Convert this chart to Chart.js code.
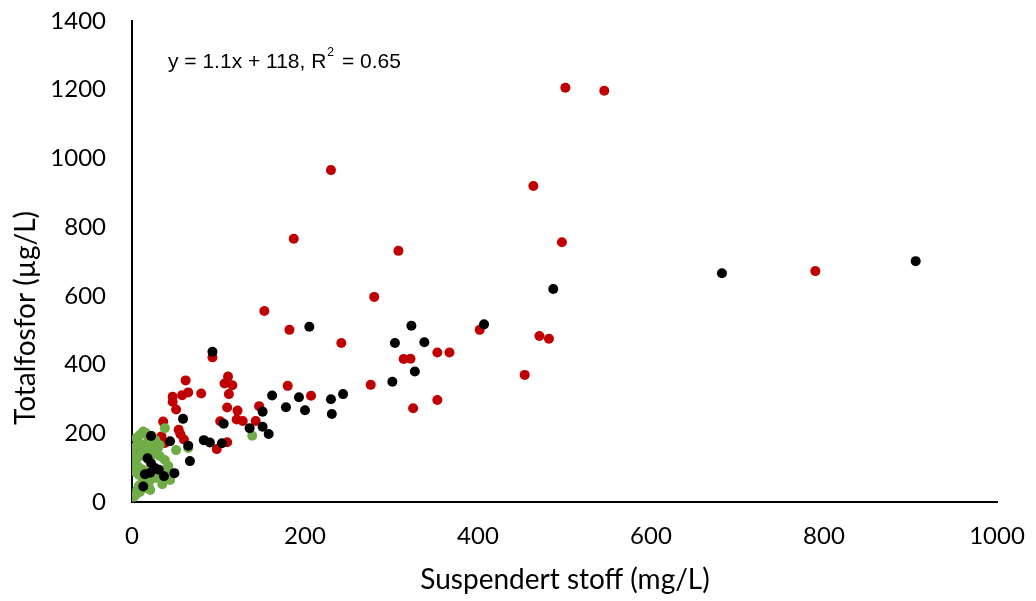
<!DOCTYPE html>
<html lang="no">
<head>
    <meta charset="UTF-8">
    <title>Totalfosfor mot suspendert stoff</title>
    <script src="https://cdn.jsdelivr.net/npm/chart.js"></script>
    <style>
        body { margin: 0; background: #fff; }
    </style>
</head>
<body>
    <canvas id="grafico" width="1036" height="601"></canvas>

    <script>
        // Data lest av figuren (x = suspendert stoff, y = totalfosfor)
        const redX = [501, 546, 230, 464, 187, 497, 308, 790, 280, 153, 182, 402, 242, 471, 482, 314, 322, 353, 367, 454,
                      93, 276, 180, 207, 353, 325, 62, 107, 111, 116, 47, 58, 65, 80, 112, 47, 51, 110, 122, 147,
                      121, 128, 36, 102, 143, 54, 56, 34, 60, 110, 98, 38];
        const redY = [1206, 1197, 966, 920, 766, 756, 731, 672, 597, 556, 501, 501, 463, 483, 475, 416, 417, 435, 435, 370,
                      421, 341, 338, 309, 297, 273, 354, 345, 365, 340, 306, 311, 319, 316, 314, 292, 269, 275, 266, 279,
                      240, 236, 234, 235, 236, 210, 197, 191, 182, 174, 154, 172];

        const blackX = [906, 682, 487, 407, 205, 323, 304, 338, 93, 327, 301, 162, 193, 230, 244, 178, 200, 231, 151, 59,
                        106, 151, 136, 158, 22, 44, 83, 90, 104, 65, 67, 18, 22, 27, 31, 15, 21, 37, 49, 13];
        const blackY = [701, 666, 620, 517, 510, 513, 463, 465, 437, 380, 350, 310, 305, 299, 314, 276, 267, 256, 263, 242,
                        228, 219, 215, 198, 192, 177, 180, 173, 171, 164, 119, 127, 113, 98, 94, 81, 85, 75, 84, 45];

        const greenX = [13, 9, 5, 16, 7, 12, 4, 8, 15, 21, 27, 30, 2, 6, 10, 16, 23, 32, 38, 42,
                        38, 44, 32, 28, 21, 15, 12, 8, 6, 5, 9, 15, 19, 1, 5, 9, 4, 8, 13, 27,
                        32, 19, 23, 38, 51, 65, 139, 44, 35, 21, 2];
        const greenY = [205, 195, 186, 201, 175, 166, 160, 151, 157, 163, 151, 157, 137, 128, 134, 143, 137, 134, 122, 105,
                        93, 87, 79, 70, 64, 73, 58, 47, 35, 23, 29, 41, 49, 122, 108, 99, 87, 79, 93, 180,
                        166, 180, 192, 215, 151, 157, 193, 64, 52, 35, 15];

        const xTitle = 'Suspendert stoff (mg/L)';
        const yTitle = 'Totalfosfor (µg/L)';
        const equation = 'y = 1.1x + 118, R';

        function toPoints(xs, ys) {
            return xs.map((x, i) => ({ x: x, y: ys[i] }));
        }

        // Aksetitler og regresjonstekst tegnes selv
        const textPlugin = {
            id: 'tekster',
            afterDraw(chart) {
                const c = chart.ctx;
                c.save();
                c.fillStyle = '#000';
                c.textAlign = 'center';
                c.textBaseline = 'middle';
                c.font = '28px Lato, "Open Sans", sans-serif';
                c.fillText(xTitle, 565, 580);
                c.translate(26, 318);
                c.rotate(-Math.PI / 2);
                c.fillText(yTitle, 0, 0);
                c.restore();

                c.save();
                c.fillStyle = '#000';
                c.textBaseline = 'alphabetic';
                c.textAlign = 'left';
                c.font = '21px "Liberation Sans Narrow", "Liberation Sans", sans-serif';
                let x0 = 168;
                c.fillText(equation, x0, 68);
                x0 += c.measureText(equation).width + 1;
                c.font = '12px "Liberation Sans Narrow", "Liberation Sans", sans-serif';
                c.fillText('2', x0, 56);
                x0 += c.measureText('2').width + 2;
                c.font = '21px "Liberation Sans Narrow", "Liberation Sans", sans-serif';
                c.fillText(' = 0.65', x0, 68);
                c.restore();
            }
        };

        const tickFont = { family: 'Lato, "Open Sans", sans-serif', size: 24 };

        function noPadding(scale) {
            scale.paddingTop = 0;
            scale.paddingBottom = 0;
            scale.paddingLeft = 0;
            scale.paddingRight = 0;
        }

        const ctx = document.getElementById('grafico').getContext('2d');
        const chart = new Chart(ctx, {
            type: 'scatter',
            data: {
                datasets: [{
                    data: toPoints(blackX, blackY),
                    backgroundColor: '#000000'
                }, {
                    data: toPoints(greenX, greenY),
                    backgroundColor: '#70AD47'
                }, {
                    data: toPoints(redX, redY),
                    backgroundColor: '#C00000'
                }]
            },
            options: {
                responsive: false,
                animation: false,
                layout: { padding: { top: 21, right: 39, left: 0, bottom: 0 } },
                elements: { point: { radius: 5, borderWidth: 0, hoverRadius: 5 } },
                plugins: { legend: { display: false }, tooltip: { enabled: false } },
                scales: {
                    x: {
                        min: 0, max: 1000,
                        ticks: { stepSize: 200, color: '#000', font: tickFont, padding: 20, maxRotation: 0,
                                 callback: v => String(v) },
                        grid: { display: false, drawTicks: false },
                        border: { display: true, color: '#000', width: 2 },
                        afterFit(scale) { scale.height = 99; noPadding(scale); }
                    },
                    y: {
                        min: 0, max: 1400,
                        ticks: { stepSize: 200, color: '#000', font: tickFont, padding: 26,
                                 callback: v => String(v) },
                        grid: { display: false, drawTicks: false },
                        border: { display: true, color: '#000', width: 2 },
                        afterFit(scale) { scale.width = 132; noPadding(scale); }
                    }
                }
            },
            plugins: [textPlugin]
        });
    </script>
</body>
</html>
